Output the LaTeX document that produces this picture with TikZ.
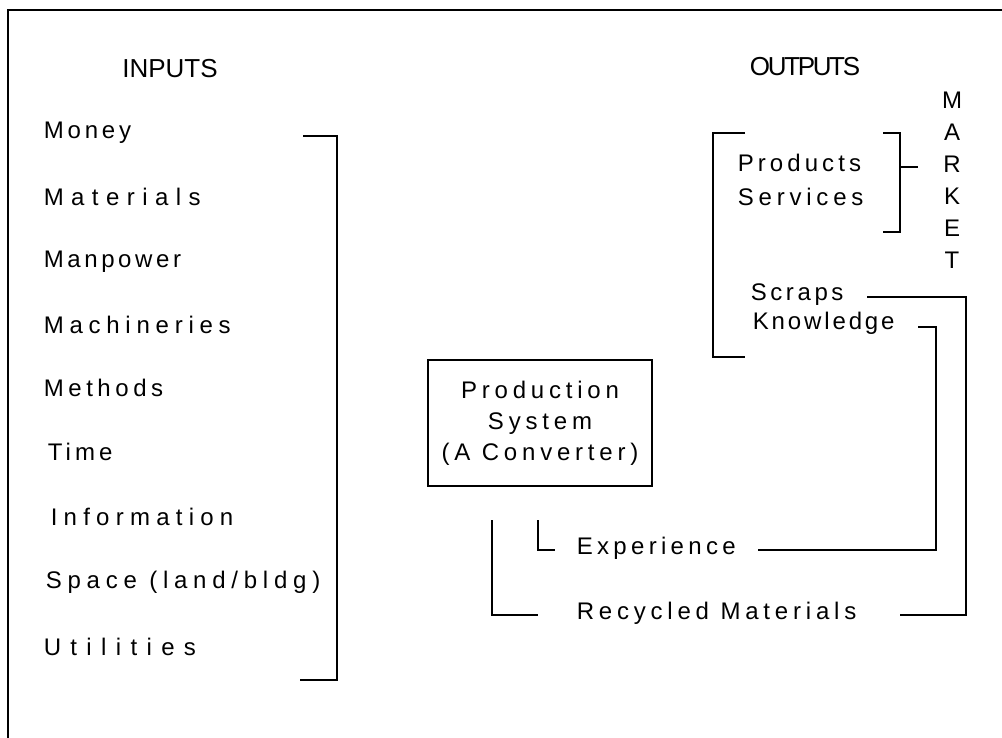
\documentclass[tikz,border=0pt]{standalone}
\usepackage{fontspec}
\usepackage{tikz}
\setmainfont{Liberation Sans}

\begin{document}
\begin{tikzpicture}[x=0.5pt,y=-0.5pt,line width=0.8pt]
        \tikzstyle{every node}+=[inner sep=0pt]
        \tikzset{heading/.style={font=\fontsize{13}{15}\selectfont\addfontfeature{LetterSpace=#1}},
          heading/.default=0,
          item/.style={anchor=west,font=\fontsize{12}{14}\selectfont\addfontfeature{LetterSpace=#1}},
          item/.default=20}
        \tikzstyle{letter}=[font=\fontsize{12}{14}\selectfont]
        \useasboundingbox (0,0) rectangle (1002,738);
        \draw [black] (1002,10) -- (8,10) -- (8,738);
        \node [heading] (inputs) at (170,69) {INPUTS};
        \node [heading=-9] (outputs) at (805,67) {OUTPUTS};
        \node [item=16] (money) at (43,133) {Money};
        \node [item=31] (materials) at (43,197) {Materials};
        \node [item=15] (manpower) at (43,262) {Manpower};
        \node [item=24] (machineries) at (43,325) {Machineries};
        \node [item=19] (methods) at (43,388) {Methods};
        \node [item=17] (time) at (47,452) {Time};
        \node [item=26] (information) at (50,517) {Information};
        \node [item=24] (space) at (45,582) {Space (land/bldg)};
        \node [item=39] (utilities) at (43,647) {Utilities};
        \draw [black] (303,136) -| (337,680) -- (300,680);
        \node [draw,black,minimum width=112pt,minimum height=63pt,align=center,
          font=\fontsize{12}{15.5}\selectfont\addfontfeature{LetterSpace=20}] (prod) at (540,423)
          {Production\\System\\(A Converter)};
        \node [letter] (mkM) at (952,100) {M};
        \node [letter] (mkA) at (952,132) {A};
        \node [letter] (mkR) at (952,164) {R};
        \node [letter] (mkK) at (952,196) {K};
        \node [letter] (mkE) at (952,228) {E};
        \node [letter] (mkT) at (952,260) {T};
        \draw [black] (745,133) -| (713,357) -- (745,357);
        \node [item=17] (products) at (737,163) {Products};
        \node [item=20] (services) at (737,197) {Services};
        \draw [black] (883,133) -| (900,232) -- (883,232);
        \coordinate (tick) at (900,167);
        \draw [black] (tick) -- ++(18,0);
        \node [item=15] (scraps) at (750,295) {Scraps};
        \node [item=12] (knowledge) at (752,323) {Knowledge};
        \node [item=18] (experience) at (576,548) {Experience};
        \node [item=20] (recycled) at (576,613) {Recycled Materials};
        \coordinate (scrEnd) at (867,297);
        \coordinate (knowEnd) at (918,327);
        \coordinate (expEnd) at (758,550);
        \coordinate (recEnd) at (900,615);
        \draw [black] (knowEnd) -- (936,327) |- (expEnd);
        \draw [black] (scrEnd) -- (966,297) |- (recEnd);
        \draw [black] (538,520) |- (555,550);
        \draw [black] (492,520) |- (538,615);
\end{tikzpicture}
\end{document}
